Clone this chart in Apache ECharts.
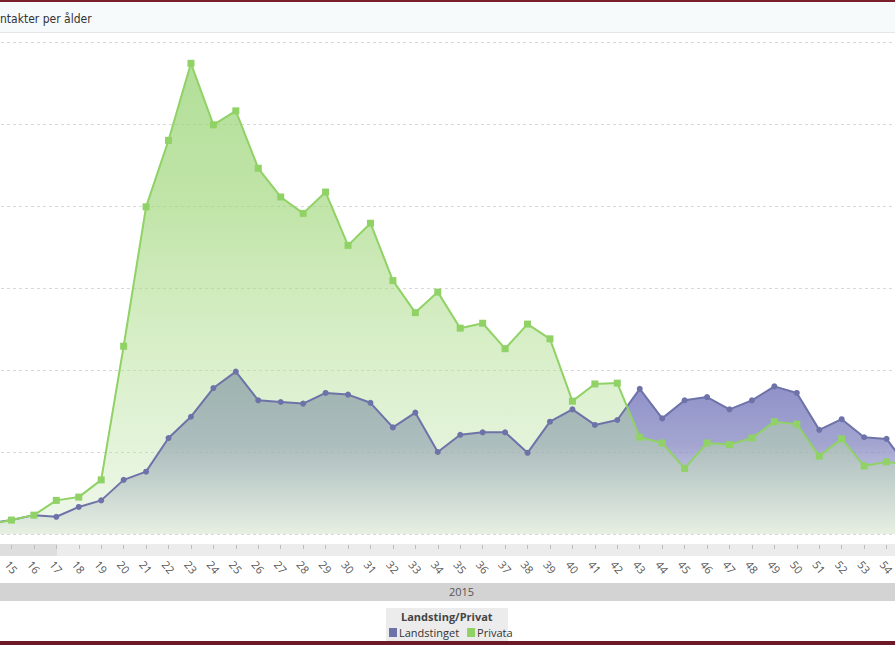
<!DOCTYPE html>
<html>
<head>
<meta charset="utf-8">
<script src="https://cdn.jsdelivr.net/npm/echarts@6/dist/echarts.min.js"></script>
<style>
html,body{margin:0;padding:0;background:#fff;overflow:hidden;width:895px;height:645px;}
#wrap{position:relative;width:895px;height:645px;overflow:hidden;}
#chart{position:absolute;left:-11px;top:0;width:920px;height:645px;}
</style>
</head>
<body>
<div id="wrap"><div id="chart"></div></div>
<script>
// Ages (14 and 55 sit just outside the visible crop)
const ages = ['14','15','16','17','18','19','20','21','22','23','24','25','26','27','28','29','30','31','32','33','34','35','36','37','38','39','40','41','42','43','44','45','46','47','48','49','50','51','52','53','54','55'];
const landstinget = [13,17,23,21,33,41,66,76,117,143,178,198,163,161,159,172,170,160,130,148,100,121,124,124,99,137,152,133,139,177,141,163,167,152,163,180,172,127,140,118,116,79];
const privata = [12,17,23,41,45,66,229,399,480,574,499,516,446,411,391,417,352,379,309,270,295,251,257,226,256,238,162,183,184,118,111,80,111,109,117,137,134,95,116,83,88,84];
const titleText = 'ntakter per ålder';
const yearLabel = '2015';
const legendTitle = 'Landsting/Privat';
const seriesNames = ['Landstinget','Privata'];

const OX = 11; // container offset so page x = container x - OX
const chart = echarts.init(document.getElementById('chart'), null, {renderer:'svg'});
const font = "'Open Sans', 'DejaVu Sans', sans-serif";
const visibleLabel = (idx) => idx > 0 && idx < ages.length - 1;
chart.setOption({
  animation:false,
  backgroundColor:'#ffffff',
  title:{
    text:titleText, left:OX, top:13, padding:0,
    textStyle:{fontSize:12, fontWeight:'normal', color:'#333', fontFamily:"'Liberation Sans Narrow','DejaVu Sans Condensed','Open Sans',sans-serif"}
  },
  legend:{
    data:seriesNames, left:OX+389, top:627, itemWidth:8, itemHeight:9, itemGap:8, icon:'rect', padding:0,
    textStyle:{fontSize:11, color:'#333', fontFamily:font, padding:[0,0,0,-3]}
  },
  grid:{left:0, right:0, top:42, bottom:111, containLabel:false, outerBoundsMode:'none'},
  xAxis:[{
    type:'category', data:ages, boundaryGap:false,
    axisLine:{show:false},
    axisTick:{show:false},
    axisLabel:{rotate:-50, align:'center', verticalAlign:'middle', margin:33, fontSize:11, color:'#555', fontFamily:font, interval:(idx)=>visibleLabel(idx)}
  },{
    type:'category', data:ages, boundaryGap:false, position:'bottom', offset:11,
    axisLine:{show:false},
    axisTick:{show:true, length:4, inside:false, lineStyle:{color:'#bdbdbd'}},
    axisLabel:{show:false}
  }],
  yAxis:{
    type:'value', min:0, max:600, interval:100,
    axisLabel:{show:false}, axisLine:{show:false}, axisTick:{show:false},
    splitLine:{show:true, lineStyle:{color:'#d8d8d8', type:[3,3]}}
  },
  graphic:[
    {type:'rect', shape:{x:0,y:0,width:920,height:32}, style:{fill:'#f7fafb'}, z:-1},
    {type:'rect', shape:{x:0,y:32,width:920,height:1}, style:{fill:'#e6e6e6'}, z:-1},
    {type:'rect', shape:{x:0,y:0,width:920,height:2}, style:{fill:'#7a1e2c'}},
    {type:'rect', shape:{x:0,y:544,width:920,height:12}, style:{fill:'#ececec'}, z:-1},
    {type:'rect', shape:{x:0,y:544,width:OX+57,height:12}, style:{fill:'#dedede'}, z:-1},
    {type:'rect', shape:{x:0,y:583,width:920,height:18}, style:{fill:'#d3d3d3'}},
    {type:'text', left:OX+449, top:586, style:{text:yearLabel, fontSize:11, fill:'#555', fontFamily:font}},
    {type:'rect', shape:{x:OX+386,y:608,width:122,height:37}, style:{fill:'#ececec'}, z:-1},
    {type:'text', left:OX+401, top:611, style:{text:legendTitle, fontSize:11, fontWeight:'bold', fill:'#444', fontFamily:font}},
    {type:'rect', shape:{x:0,y:641,width:920,height:4}, style:{fill:'#6e1a26'}, z:100}
  ],
  series:[
    {
      name:seriesNames[0], type:'line', data:landstinget,
      symbol:'circle', symbolSize:6,
      itemStyle:{color:'#6d73a8'},
      lineStyle:{color:'#6d73a8', width:2},
      areaStyle:{color:new echarts.graphic.LinearGradient(0,0,0,1,[
        {offset:0,color:'#5a5cb0'},{offset:0.45,color:'#7c7fbc'},{offset:1,color:'#eef0ee'}])}
    },
    {
      name:seriesNames[1], type:'line', data:privata,
      symbol:'rect', symbolSize:7,
      itemStyle:{color:'#90d266'},
      lineStyle:{color:'#90d266', width:2},
      areaStyle:{color:new echarts.graphic.LinearGradient(0,0,0,1,[
        {offset:0,color:'rgba(145,209,108,1)'},
        {offset:0.3,color:'rgba(158,214,120,0.92)'},
        {offset:0.6,color:'rgba(175,221,142,0.7)'},
        {offset:0.8,color:'rgba(185,225,160,0.58)'},
        {offset:1,color:'rgba(205,230,190,0.45)'}])}
    }
  ]
});
</script>
</body>
</html>
